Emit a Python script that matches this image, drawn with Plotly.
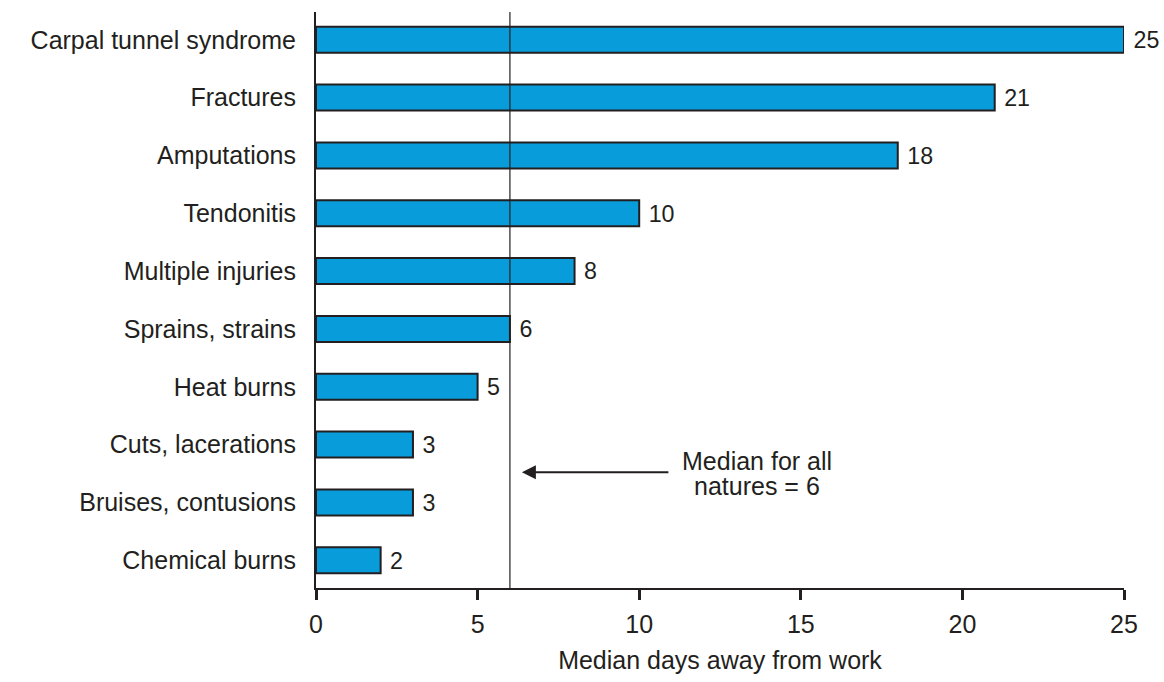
import plotly.graph_objects as go

natures = ["Chemical burns", "Bruises, contusions", "Cuts, lacerations", "Heat burns",
           "Sprains, strains", "Multiple injuries", "Tendonitis", "Amputations",
           "Fractures", "Carpal tunnel syndrome"]
median_days = [2, 3, 3, 5, 6, 8, 10, 18, 21, 25]
overall_median = 6
x_ticks = [0, 5, 10, 15, 20, 25]

INK = '#231F20'

fig = go.Figure()
fig.add_trace(go.Bar(
    x=median_days,
    y=natures,
    orientation='h',
    width=0.45,
    marker=dict(color='#089DDA', line=dict(color=INK, width=2)),
    text=['\u00a0' + str(v) for v in median_days],
    textposition='outside',
    textfont=dict(size=25, color=INK),
    cliponaxis=False,
    hoverinfo='skip'
))

# median reference line
fig.add_shape(type='line', xref='x', yref='paper',
              x0=overall_median, x1=overall_median, y0=0, y1=1,
              line=dict(color=INK, width=1.2))

# arrow pointing at the median line
fig.add_annotation(
    x=6.37, y=1.52, xref='x', yref='y',
    ax=10.95, ay=1.52, axref='x', ayref='y',
    showarrow=True, arrowhead=2, arrowsize=1.4, arrowwidth=2,
    arrowcolor=INK, text=''
)
fig.add_annotation(x=13.64, y=1.72, xref='x', yref='y', text="Median for all",
                   showarrow=False, font=dict(size=25, color=INK))
fig.add_annotation(x=13.64, y=1.29, xref='x', yref='y', text="natures = 6",
                   showarrow=False, font=dict(size=25, color=INK))

fig.update_layout(
    width=1164, height=682,
    margin=dict(l=316, r=40, t=12, b=86),
    plot_bgcolor='white', paper_bgcolor='white',
    font=dict(family='Liberation Sans, Arial, sans-serif', size=25, color=INK),
    showlegend=False
)
fig.update_xaxes(
    range=[0, 25], tickvals=x_ticks, showgrid=False, zeroline=False,
    showline=True, linecolor=INK, linewidth=2,
    ticks='outside', ticklen=10, tickwidth=3, tickcolor=INK,
    ticklabelstandoff=3,
    title=dict(text='Median days away from work', font=dict(size=25), standoff=14),
    tickfont=dict(size=25)
)
fig.update_yaxes(
    range=[-0.48, 9.48], showgrid=False, zeroline=False,
    showline=True, linecolor=INK, linewidth=2, ticks='',
    ticklabelstandoff=13, tickfont=dict(size=25)
)

# drop the page's default body margin so the figure fills the window
fig.write_html("out.html", config={'displayModeBar': False},
               post_script="document.body.style.margin='0';document.body.style.overflow='hidden';")
